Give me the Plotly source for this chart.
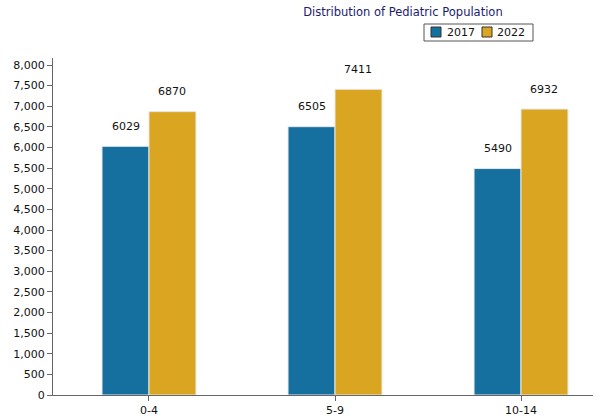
import plotly.graph_objects as go

categories = ["0-4", "5-9", "10-14"]
series_names = ["2017", "2022"]
values_2017 = [6029, 6505, 5490]
values_2022 = [6870, 7411, 6932]
y_ticks = list(range(0, 8001, 500))
y_tick_labels = [f"{v:,}" for v in y_ticks]

colors = ["#15709f", "#daa520"]
font_family = "DejaVu Sans, Verdana, sans-serif"

W, H = 597, 417
ML, MR, MT, MB = 53, 4, 58, 22
PW, PH = W - ML - MR, H - MT - MB


def px_x(p):
    return (p - ML) / PW


def px_y(p):
    return (H - MB - p) / PH


fig = go.Figure()
for name, vals, col in zip(series_names, [values_2017, values_2022], colors):
    fig.add_trace(go.Bar(
        x=categories, y=vals, name=name,
        marker=dict(color=col, line=dict(color="#e8e8e8", width=1)),
        hoverinfo="x+y", showlegend=False,
    ))

# value labels above bars
bar_off = 0.126
for j, vals in enumerate([values_2017, values_2022]):
    for i, v in enumerate(vals):
        fig.add_annotation(
            x=i + (-bar_off if j == 0 else bar_off), y=v, text=str(v),
            showarrow=False, yshift=20, xref="x", yref="y",
            font=dict(family=font_family, size=11, color="#111111"),
        )

# legend box (manual, compact)
shapes = [dict(type="rect", xref="paper", yref="paper",
               x0=px_x(424), x1=px_x(533), y0=px_y(41), y1=px_y(24),
               line=dict(color="#555555", width=1), fillcolor="white", layer="above")]
legend_slots = [(431, 445), (482, 495)]
for (sx, tx), name, col in zip(legend_slots, series_names, colors):
    shapes.append(dict(type="rect", xref="paper", yref="paper",
                       x0=px_x(sx), x1=px_x(sx + 10), y0=px_y(37), y1=px_y(27),
                       line=dict(color="#333333", width=1), fillcolor=col, layer="above"))
    fig.add_annotation(x=px_x(tx), y=px_y(32.5), xref="paper", yref="paper",
                       text=name, showarrow=False, xanchor="left", yanchor="middle",
                       font=dict(family=font_family, size=11, color="#111111"))

fig.update_layout(
    width=W, height=H,
    margin=dict(l=ML, r=MR, t=MT, b=MB),
    paper_bgcolor="white", plot_bgcolor="white",
    barmode="group", bargap=0.495, bargroupgap=0,
    font=dict(family=font_family, size=11, color="#111111"),
    title=dict(text="Distribution of Pediatric Population", x=0.675, xanchor="center",
               y=0.972, yanchor="middle",
               font=dict(family=font_family, size=11.5, color="#1c1c6c")),
    showlegend=False,
    shapes=shapes,
    xaxis=dict(type="category", range=[-0.516, 2.387], showline=True, linecolor="#666666",
               linewidth=1, ticks="outside", ticklen=5, tickcolor="#666666",
               showgrid=False, zeroline=False, tickfont=dict(size=11), automargin=False),
    yaxis=dict(range=[0, 8170], tickvals=y_ticks, ticktext=y_tick_labels, showline=True,
               linecolor="#666666", linewidth=1, ticks="outside", ticklen=5,
               tickcolor="#666666", showgrid=False, zeroline=False, tickfont=dict(size=11),
               automargin=False),
)

fig.write_html("out.html")
